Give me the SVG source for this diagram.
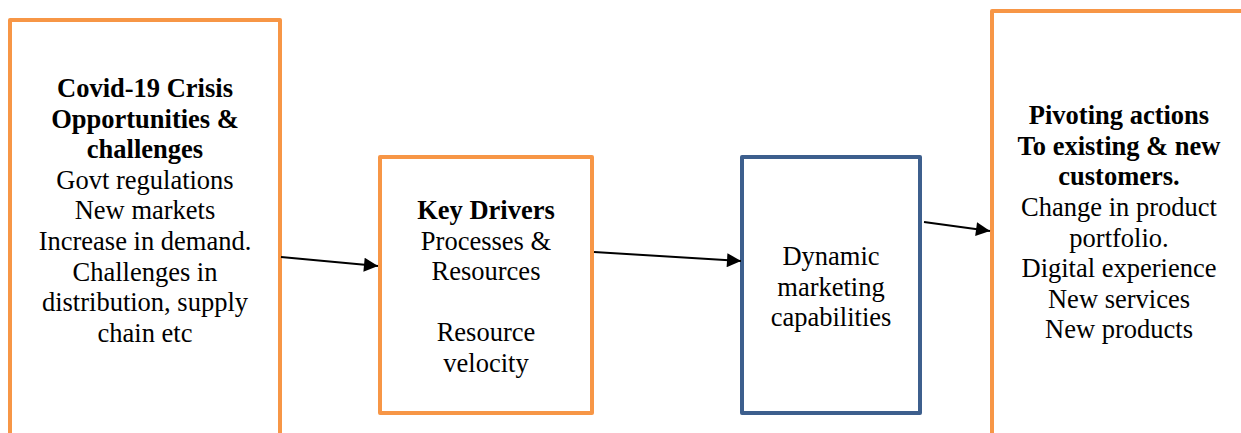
<svg xmlns="http://www.w3.org/2000/svg" width="1241" height="433" viewBox="0 0 1241 433">
<defs>
<style>
.box{fill:#fff;stroke-width:4;stroke-linejoin:round}
.or{stroke:#F79646}
.bl{stroke:#3D5F8D}
text{font-family:"Liberation Serif","Times New Roman",serif;font-size:26.5px;fill:#000;text-anchor:middle}
.b{font-weight:bold}
.conn{stroke:#000;stroke-width:2;fill:none}
</style>
<marker id="ah" viewBox="0 0 10 10" refX="10" refY="5" markerWidth="16" markerHeight="14" markerUnits="userSpaceOnUse" orient="auto">
<path d="M0,0 L10,5 L0,10 Z" fill="#000"/>
</marker>
</defs>
<g id="node-covid">
<rect class="box or" x="10" y="20" width="270" height="430"/>
<text x="145" y="97" class="b">Covid-19 Crisis</text>
<text x="145" y="127.6" class="b">Opportunities &amp;</text>
<text x="145" y="158.2" class="b">challenges</text>
<text x="145" y="188.8">Govt regulations</text>
<text x="145" y="219.4">New markets</text>
<text x="145" y="250">Increase in demand.</text>
<text x="145" y="280.6">Challenges in</text>
<text x="145" y="311.2">distribution, supply</text>
<text x="145" y="341.8">chain etc</text>
</g>
<g id="node-drivers">
<rect class="box or" x="380" y="157" width="212" height="256"/>
<text x="486" y="219" class="b">Key Drivers</text>
<text x="486" y="249.5">Processes &amp;</text>
<text x="486" y="280">Resources</text>
<text x="486" y="341">Resource</text>
<text x="486" y="371.5">velocity</text>
</g>
<g id="node-dynamic">
<rect class="box bl" x="742" y="157" width="178" height="256"/>
<text x="831" y="265">Dynamic</text>
<text x="831" y="295.5">marketing</text>
<text x="831" y="326">capabilities</text>
</g>
<g id="node-pivot">
<rect class="box or" x="992" y="11" width="256" height="440"/>
<text x="1119" y="124" class="b">Pivoting actions</text>
<text x="1119" y="154.5" class="b">To existing &amp; new</text>
<text x="1119" y="185" class="b">customers.</text>
<text x="1119" y="216">Change in product</text>
<text x="1119" y="246.5">portfolio.</text>
<text x="1119" y="277">Digital experience</text>
<text x="1119" y="307.5">New services</text>
<text x="1119" y="338">New products</text>
</g>
<g id="connectors">
<line class="conn" x1="281" y1="257" x2="378" y2="266" marker-end="url(#ah)"/>
<line class="conn" x1="594" y1="252" x2="741" y2="261" marker-end="url(#ah)"/>
<line class="conn" x1="924" y1="222" x2="990" y2="231" marker-end="url(#ah)"/>
</g>
</svg>
